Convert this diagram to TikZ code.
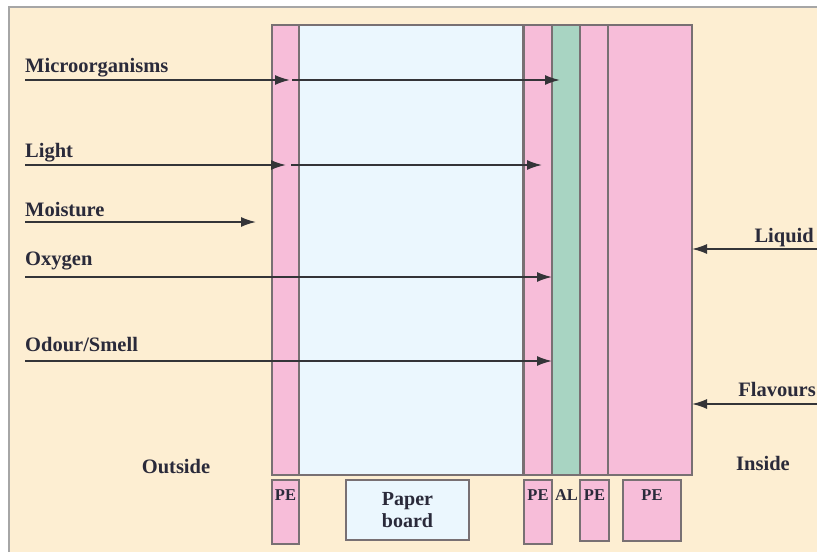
\documentclass[tikz,border=0pt]{standalone}
\usepackage{fontspec}
\setmainfont{Liberation Serif}
\usetikzlibrary{arrows.meta}
\definecolor{cream}{RGB}{253,238,210}
\definecolor{pepink}{RGB}{247,189,217}
\definecolor{pblue}{RGB}{235,247,254}
\definecolor{algreen}{RGB}{168,212,194}
\definecolor{edgegray}{RGB}{120,112,115}
\definecolor{txt}{RGB}{42,42,58}
\definecolor{arr}{RGB}{52,52,56}
\begin{document}
\begin{tikzpicture}[x=1pt,y=-1pt,
  layer/.style={draw=edgegray,line width=1.4pt,minimum height=450pt,anchor=north west,inner sep=0pt,outer sep=0pt},
  tagbox/.style={draw=edgegray,line width=1.4pt,anchor=north west,inner sep=0pt,outer sep=0pt},
  lbl/.style={text=txt,font=\fontsize{20.5}{22}\selectfont\bfseries,inner sep=0pt},
  tag/.style={text=txt,font=\fontsize{16.5}{18}\selectfont\bfseries,inner sep=0pt,anchor=base},
  flow/.style={draw=arr,line width=1.6pt,-{Latex[length=15pt,width=10pt]}}]
\useasboundingbox (0,0) rectangle (817,554);
\fill[cream] (9,7) rectangle (830,552);
\draw[gray!70,line width=1.2pt] (9,552) -- (9,7) -- (830,7);
% layers
\node[layer,fill=pepink,minimum width=27pt] (pe1) at (272,25) {};
\node[layer,fill=pblue,minimum width=224pt] (pb) at (299,25) {};
\node[layer,fill=pepink,minimum width=28pt] (pe2) at (524,25) {};
\node[layer,fill=algreen,minimum width=28pt] (al) at (552,25) {};
\node[layer,fill=pepink,minimum width=28pt] (pe3) at (580,25) {};
\node[layer,fill=pepink,minimum width=84pt] (pe4) at (608,25) {};
% bottom tags
\node[tagbox,fill=pepink,minimum width=27pt,minimum height=64pt] (b1) at (272,480) {};
\node[tagbox,fill=pblue,minimum width=123pt,minimum height=60pt,
  text=txt,font=\fontsize{20}{21.5}\selectfont\bfseries,align=center] (b2) at (346,480) {Paper\\board};
\node[tagbox,fill=pepink,minimum width=28pt,minimum height=64pt] (b3) at (524,480) {};
\node[tagbox,fill=pepink,minimum width=29pt,minimum height=61pt] (b4) at (580,480) {};
\node[tagbox,fill=pepink,minimum width=58pt,minimum height=61pt] (b5) at (623,480) {};
\node[tag] (t1) at (285.5,500) {PE};
\node[tag] (t3) at (538,500) {PE};
\node[tag] (t6) at (566.5,500) {AL};
\node[tag] (t4) at (594.5,500) {PE};
\node[tag] (t5) at (652,500) {PE};
% labels
\node[lbl,anchor=base west] (lm) at (25,72) {Microorganisms};
\node[lbl,anchor=base west] (ll) at (25,157) {Light};
\node[lbl,anchor=base west] (lmo) at (25,216) {Moisture};
\node[lbl,anchor=base west] (lo) at (25,265) {Oxygen};
\node[lbl,anchor=base west] (ls) at (25,351) {Odour/Smell};
\node[lbl,anchor=base east] (lq) at (814,242) {Liquid};
\node[lbl,anchor=base east] (lf) at (816,396) {Flavours};
\node[lbl,anchor=base] (lout) at (176,473) {Outside};
\node[lbl,anchor=base] (lin) at (763,470) {Inside};
% arrow coordinates
\coordinate (m0) at (25,80); \coordinate (m1) at (290,80);
\coordinate (m2) at (292,80); \coordinate (m3) at (560,80);
\coordinate (l0) at (25,165); \coordinate (l1) at (286,165);
\coordinate (l2) at (291,165); \coordinate (l3) at (542,165);
\coordinate (w0) at (25,222); \coordinate (w1) at (256,222);
\coordinate (o0) at (25,277);
\coordinate (s0) at (25,361);
\coordinate (q0) at (817,249);
\coordinate (f0) at (817,404);
% arrows
\draw[flow] (m0) -- (m1);
\draw[flow] (m2) -- (m3);
\draw[flow] (l0) -- (l1);
\draw[flow] (l2) -- (l3);
\draw[flow] (w0) -- (w1);
\draw[flow] (o0) -- (o0 -| al.west);
\draw[flow] (s0) -- (s0 -| al.west);
\draw[flow] (q0) -- (q0 -| pe4.east);
\draw[flow] (f0) -- (f0 -| pe4.east);
\end{tikzpicture}
\end{document}
